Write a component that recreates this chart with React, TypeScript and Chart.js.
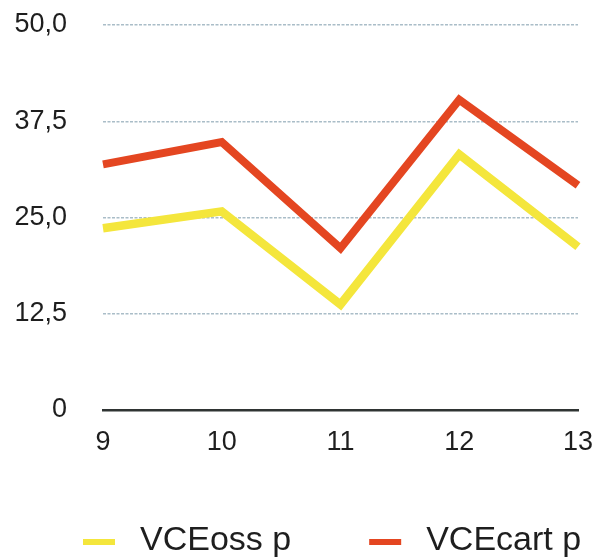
import { useEffect, useRef } from "react";
import { Chart, registerables } from "chart.js";

Chart.register(...registerables);

const categories = ["9", "10", "11", "12", "13"];
const vceOss = [23.6, 25.8, 13.7, 33.2, 21.2];
const vceCart = [31.9, 34.8, 21.0, 40.3, 29.2];
const seriesNames = ["VCEoss p", "VCEcart p"];
const seriesColors = ["#f4e63c", "#e44621"];
const yTickValues = [0, 12.5, 25, 37.5, 50];
const yTickLabels = ["0", "12,5", "25,0", "37,5", "50,0"];

const FONT = "'Liberation Sans', Arial, Helvetica, sans-serif";

const legendPlugin = {
  id: "customLegend",
  afterDraw(chart: any, _args: any, opts: any) {
    const ctx = chart.ctx;
    ctx.save();
    ctx.font = `${opts.fontSize}px ${FONT}`;
    ctx.textBaseline = "middle";
    ctx.textAlign = "left";
    let x = opts.x;
    chart.data.datasets.forEach((ds: any) => {
      ctx.fillStyle = ds.borderColor;
      ctx.fillRect(x, opts.markerY - opts.markerHeight / 2, opts.markerWidth, opts.markerHeight);
      x += opts.markerWidth + opts.markerGap;
      ctx.fillStyle = opts.color;
      ctx.fillText(ds.label, x, opts.textY);
      x += ctx.measureText(ds.label).width + opts.itemGap;
    });
    ctx.restore();
  },
};

export default function App() {
  const canvasRef = useRef<HTMLCanvasElement | null>(null);

  useEffect(() => {
    if (!canvasRef.current) return;
    const chart = new Chart(canvasRef.current, {
      type: "line",
      data: {
        labels: categories,
        datasets: [
          {
            label: seriesNames[0],
            data: vceOss,
            borderColor: seriesColors[0],
            backgroundColor: seriesColors[0],
            borderWidth: 8.5,
            pointRadius: 0,
            pointBorderWidth: 0,
            tension: 0,
            borderJoinStyle: "miter",
            borderCapStyle: "butt",
          },
          {
            label: seriesNames[1],
            data: vceCart,
            borderColor: seriesColors[1],
            backgroundColor: seriesColors[1],
            borderWidth: 8,
            pointRadius: 0,
            pointBorderWidth: 0,
            tension: 0,
            borderJoinStyle: "miter",
            borderCapStyle: "butt",
          },
        ],
      },
      options: {
        responsive: false,
        animation: false,
        layout: { padding: { left: 0, right: 19, top: 25, bottom: 100 } },
        plugins: {
          legend: { display: false },
          tooltip: { enabled: false },
          customLegend: {
            x: 83,
            markerY: 542,
            textY: 541,
            markerWidth: 32,
            markerHeight: 6,
            markerGap: 25,
            itemGap: 78,
            fontSize: 34,
            color: "#1e1e1e",
          },
        } as any,
        scales: {
          x: {
            offset: false,
            grid: { display: false, drawTicks: false },
            border: { display: true, color: "#2f3433", width: 2.5 },
            ticks: {
              padding: 16,
              color: "#1e1e1e",
              font: { family: FONT, size: 27 },
              maxRotation: 0,
            },
            afterFit: (scale: any) => {
              scale.height = 48;
              scale.paddingLeft = 0;
              scale.paddingRight = 0;
            },
          },
          y: {
            min: 0,
            max: 50,
            afterBuildTicks: (scale: any) => {
              scale.ticks = yTickValues.map((v) => ({ value: v }));
            },
            grid: {
              drawTicks: false,
              color: (ctx: any) => (ctx.tick && ctx.tick.value === 0 ? "rgba(0,0,0,0)" : "#aabdc8"),
              lineWidth: 1.5,
            },
            border: { display: false, dash: [3, 1.5] },
            ticks: {
              padding: 36,
              color: "#1e1e1e",
              font: { family: FONT, size: 27 },
              callback: (value: any) => {
                const i = yTickValues.indexOf(Number(value));
                return i >= 0 ? yTickLabels[i] : "";
              },
            },
            afterFit: (scale: any) => {
              scale.width = 103;
              scale.paddingTop = 0;
              scale.paddingBottom = 0;
            },
          },
        },
      },
      plugins: [legendPlugin],
    });
    return () => chart.destroy();
  }, []);

  return (
    <div style={{ position: "absolute", left: 0, top: 0, width: 597, height: 558, background: "#fff" }}>
      <canvas ref={canvasRef} width={597} height={558} />
    </div>
  );
}
